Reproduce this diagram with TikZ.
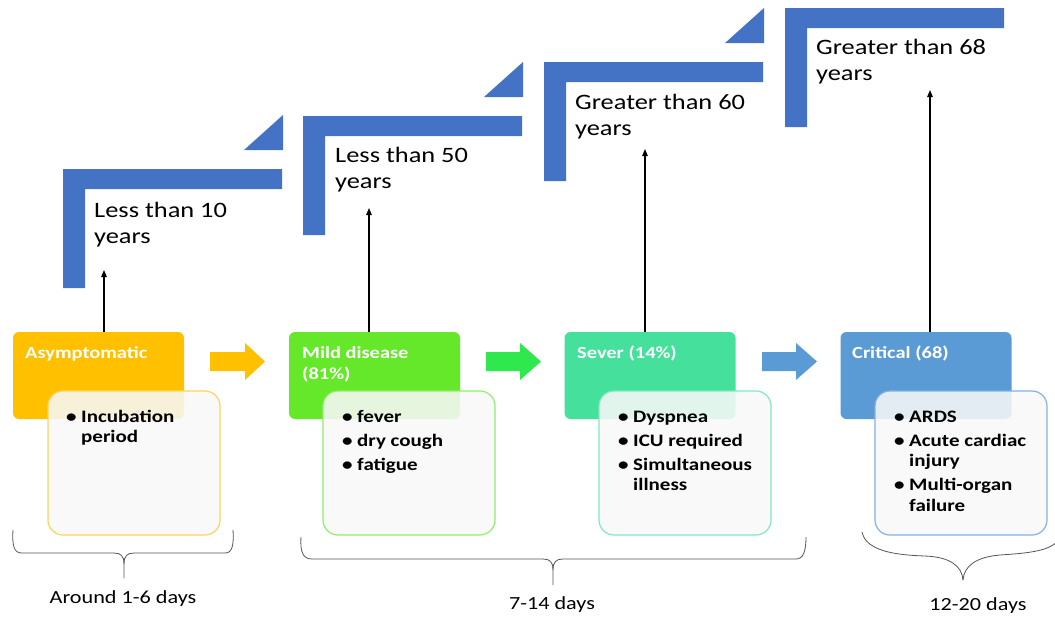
\documentclass[tikz,border=0pt]{standalone}
\usepackage{fontspec}
\setmainfont{Carlito}[FakeStretch=1.2]
\usetikzlibrary{arrows.meta}
\definecolor{stepblue}{HTML}{4472C4}
\definecolor{asymcol}{HTML}{FFC000}
\definecolor{mildcol}{HTML}{66E82A}
\definecolor{arrgreen}{HTML}{2EE84E}
\definecolor{severcol}{HTML}{45E09B}
\definecolor{critcol}{HTML}{5B9BD5}
\definecolor{asymbd}{HTML}{FFD35A}
\definecolor{mildbd}{HTML}{8FEF6A}
\definecolor{severbd}{HTML}{7DEBBD}
\definecolor{critbd}{HTML}{82B1E3}
\definecolor{detfill}{HTML}{F8F8F8}
\definecolor{bracecol}{HTML}{555555}
\begin{document}
\begin{tikzpicture}[x=1pt,y=-1pt,
  hdrbox/.style={rectangle, rounded corners=6pt, minimum width=171pt, minimum height=87pt, inner sep=0pt},
  detbox/.style={rectangle, rounded corners=15pt, minimum width=172pt, minimum height=144pt, inner sep=0pt, fill=detfill, fill opacity=0.88, line width=1.2pt},
  hdrtxt/.style={anchor=base west, inner sep=0pt, text=white, font=\fontsize{17}{21}\selectfont\bfseries},
  listtxt/.style={anchor=base west, inner sep=0pt, font=\fontsize{17.5}{20.5}\selectfont\bfseries},
  agetxt/.style={anchor=base west, inner sep=0pt, font=\fontsize{22}{26}\selectfont},
  daytxt/.style={anchor=base, inner sep=0pt, font=\fontsize{18.5}{22}\selectfont},
  uparrow/.style={-{Triangle[length=7pt,width=5.5pt]}, line width=1.1pt},
  bracestyle/.style={line width=0.8pt, draw=bracecol},
  steppath/.style={fill=stepblue}
]
\useasboundingbox (0,0) rectangle (1055,616);

% ---- steps (L shapes + triangles)
\foreach \sx/\st in {63/169, 303/116, 544/62, 785/8}{
  \fill[steppath] (\sx,\st+119) -- (\sx,\st) -- (\sx+219,\st) -- (\sx+219,\st+20) -- (\sx+22,\st+20) -- (\sx+22,\st+119) -- cycle;
}
\foreach \sx/\st in {63/169, 303/116, 544/62}{
  \fill[steppath] (\sx+181,\st-19) -- (\sx+220,\st-19) -- (\sx+220,\st-54) -- cycle;
}

% ---- age labels
\node[agetxt] (age1) at (94,217) {\begin{tabular}[t]{@{}l@{}}Less than 10\\years\end{tabular}};
\node[agetxt] (age2) at (335,162) {\begin{tabular}[t]{@{}l@{}}Less than 50\\years\end{tabular}};
\node[agetxt] (age3) at (575,109) {\begin{tabular}[t]{@{}l@{}}Greater than 60\\years\end{tabular}};
\node[agetxt] (age4) at (816,54) {\begin{tabular}[t]{@{}l@{}}Greater than 68\\years\end{tabular}};

% ---- thin arrows (drawn first, boxes cover their feet)
\coordinate (a1) at (104,270);
\coordinate (a2) at (369,208);
\coordinate (a3) at (645,149);
\coordinate (a4) at (930,90);
\coordinate (f1) at (104,333);
\coordinate (f2) at (369,333);
\coordinate (f3) at (645,333);
\coordinate (f4) at (930,333);
\draw[uparrow] (f1) -- (a1);
\draw[uparrow] (f2) -- (a2);
\draw[uparrow] (f3) -- (a3);
\draw[uparrow] (f4) -- (a4);

% ---- header boxes
\node[hdrbox, fill=asymcol] (h1) at (98.5,375.5) {};
\node[hdrbox, fill=mildcol] (h2) at (374.5,375.5) {};
\node[hdrbox, fill=severcol] (h3) at (650,375.5) {};
\node[hdrbox, fill=critcol] (h4) at (926,375.5) {};

% ---- detail boxes
\node[detbox, draw=asymbd] (d1) at (134,463) {};
\node[detbox, draw=mildbd] (d2) at (409,463) {};
\node[detbox, draw=severbd] (d3) at (685,463) {};
\node[detbox, draw=critbd] (d4) at (961,463) {};

% ---- header texts
\node[hdrtxt] (t1) at (25,358) {Asymptomatic};
\node[hdrtxt] (t2) at (302,358) {\begin{tabular}[t]{@{}l@{}}Mild disease\\(81\%)\end{tabular}};
\node[hdrtxt] (t3) at (577,358) {Sever (14\%)};
\node[hdrtxt] (t4) at (852,358) {Critical (68)};

% ---- lists
\node[listtxt] (l1) at (66,422) {\begin{tabular}[t]{@{}p{15pt}@{}l@{}}\textbullet & Incubation\\ & period\end{tabular}};
\node[listtxt] (l2) at (342,422) {\begin{tabular}[t]{@{}p{15pt}@{}l@{}}\textbullet & fever\\[3.5pt] \textbullet & dry cough\\[3.5pt] \textbullet & fatigue\end{tabular}};
\node[listtxt] (l3) at (618,422) {\begin{tabular}[t]{@{}p{15pt}@{}l@{}}\textbullet & Dyspnea\\[3.5pt] \textbullet & ICU required\\[3.5pt] \textbullet & Simultaneous\\ & illness\end{tabular}};
\node[listtxt] (l4) at (894,422) {\begin{tabular}[t]{@{}p{15pt}@{}l@{}}\textbullet & ARDS\\[3.5pt] \textbullet & Acute cardiac\\ & injury\\[3.5pt] \textbullet & Multi-organ\\ & failure\end{tabular}};

% ---- block arrows
\fill[asymcol] (210,352) -- (245,352) -- (245,343) -- (265,361.5) -- (245,380) -- (245,371) -- (210,371) -- cycle;
\fill[arrgreen] (486,352) -- (520,352) -- (520,343) -- (541,361.5) -- (520,380) -- (520,371) -- (486,371) -- cycle;
\fill[critcol] (762,352) -- (796,352) -- (796,343) -- (817,361.5) -- (796,380) -- (796,371) -- (762,371) -- cycle;

% ---- braces
\draw[bracestyle] (13,530) .. controls (12,546) and (14,553) .. (22,553) -- (114,553) .. controls (121,553) and (124,556) .. (124,564) -- (124,578);
\draw[bracestyle] (124,564) .. controls (124,556) and (127,553) .. (134,553) -- (225,553) .. controls (232,553) and (234,546) .. (233,530);

\draw[bracestyle] (301,537) .. controls (300,552) and (303,559) .. (312,559) -- (543,559) .. controls (550,559) and (553,562) .. (553,570) -- (553,585);
\draw[bracestyle] (553,570) .. controls (553,562) and (556,559) .. (563,559) -- (796,559) .. controls (803,559) and (806,552) .. (806,537);

\draw[bracestyle] (862,532) .. controls (866,551) and (895,555) .. (925,556) .. controls (950,557) and (962,566) .. (963,580);
\draw[bracestyle] (963,580) .. controls (964,566) and (976,557) .. (1000,555) .. controls (1030,553) and (1048,551) .. (1058,541);

% ---- day labels
\node[daytxt] (dy1) at (123,603) {Around 1-6 days};
\node[daytxt] (dy2) at (552,609) {7-14 days};
\node[daytxt] (dy3) at (978,610) {12-20 days};
\end{tikzpicture}
\end{document}
